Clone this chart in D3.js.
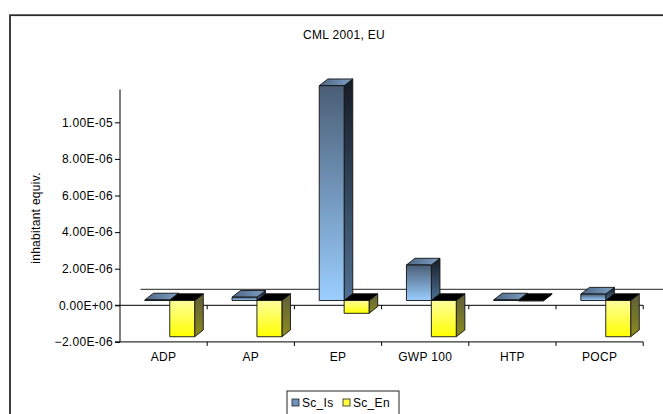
<!DOCTYPE html>
<html>
<head>
<meta charset="utf-8">
<script src="https://cdn.jsdelivr.net/npm/d3@7/dist/d3.min.js"></script>
<style>
  html, body { margin: 0; padding: 0; background: #fff; }
  svg { display: block; }
  text { font-family: "Liberation Sans", Arial, sans-serif; fill: #000; letter-spacing: 0.3px; }
</style>
</head>
<body>
<svg id="chart" width="663" height="414"></svg>
<script>
// Impact categories and normalised results (inhabitant equivalents)
const categories = ["ADP", "AP", "EP", "GWP 100", "HTP", "POCP"];
const seriesNames = ["Sc_Is", "Sc_En"];
const scIs = [0.03e-6, 0.18e-6, 11.74e-6, 1.94e-6, 0.03e-6, 0.35e-6];
const scEn = [-1.98e-6, -1.98e-6, -0.70e-6, -1.98e-6, -0.02e-6, -1.98e-6];
const yTicks = [-2e-6, 0, 2e-6, 4e-6, 6e-6, 8e-6, 1e-5];
const yDomain = [-2e-6, 1.18e-5];
const chartTitle = "CML 2001, EU";
const yTitle = "inhabitant equiv.";

const svg = d3.select("#chart");

// layout
const plot = { left: 120, right: 643.2, bottom: 341.9, top: 89.4 };
const depth = { dx: 20.5, dy: -16 };      // floor depth vector (oblique projection)
const barFront = 0.3, barBack = 0.72;      // bar position inside the floor depth

const x = d3.scaleBand().domain(categories).range([plot.left, plot.right]).padding(0);
const xs = d3.scaleBand().domain(seriesNames).range([0, x.bandwidth()])
  .paddingInner(0).paddingOuter(0.75);
const y = d3.scaleLinear().domain(yDomain).range([plot.bottom, plot.top]);

// gradients
const defs = svg.append("defs");
function grad(id, stops, horiz) {
  const g = defs.append("linearGradient").attr("id", id)
    .attr("x1", 0).attr("y1", 0).attr("x2", horiz ? 1 : 0).attr("y2", horiz ? 0 : 1);
  stops.forEach(([o, c]) => g.append("stop").attr("offset", o).attr("stop-color", c));
}
grad("blueFront", [[0, "#4a5e76"], [1, "#9bceff"]]);
grad("blueSide", [[0, "#151c25"], [1, "#4e7092"]]);
grad("blueTop", [[0, "#4d6684"], [1, "#7fa0c4"]], true);
grad("yellowFront", [[0, "#ffff9c"], [1, "#ffff00"]]);
grad("yellowSide", [[0, "#5e5e3a"], [1, "#8b8b1e"]]);
const fills = {
  Sc_Is: { front: "url(#blueFront)", side: "url(#blueSide)", top: "url(#blueTop)" },
  Sc_En: { front: "url(#yellowFront)", side: "url(#yellowSide)", top: "#000" }
};

// outer chart frame
svg.append("rect").attr("x", 10).attr("y", 15.2).attr("width", 700).attr("height", 450)
  .attr("fill", "none").attr("stroke", "#2b2b2b").attr("stroke-width", 1.8);

// title
svg.append("text").attr("x", 344).attr("y", 39).attr("text-anchor", "middle")
  .attr("font-size", 12).text(chartTitle);

// back edge of the zero floor
svg.append("line")
  .attr("x1", plot.left + depth.dx).attr("x2", plot.right + depth.dx)
  .attr("y1", y(0) + depth.dy).attr("y2", y(0) + depth.dy)
  .attr("stroke", "#222").attr("stroke-width", 1);

// value axis
const yAxis = d3.axisLeft(y).tickValues(yTicks).tickSize(5).tickPadding(2)
  .tickFormat(d => d3.format(".2e")(d).replace("e", "E").replace(/E([+-])(\d)$/, "E$10$2"));
const gy = svg.append("g").attr("transform", `translate(${plot.left},0)`).call(yAxis);
gy.select(".domain").remove();
gy.selectAll(".tick line").attr("stroke", "#000");
gy.selectAll(".tick text").attr("font-size", 12).attr("font-family", "Liberation Sans, Arial, sans-serif");
svg.append("line").attr("x1", plot.left).attr("x2", plot.left)
  .attr("y1", plot.top).attr("y2", plot.bottom).attr("stroke", "#000");

// category axis at the bottom and the zero line, both with boundary ticks
const bounds = categories.map(c => x(c)).concat([plot.right]);
[y(yDomain[0]), y(0)].forEach(yy => {
  svg.append("line").attr("x1", plot.left - 5).attr("x2", plot.right)
    .attr("y1", yy).attr("y2", yy).attr("stroke", "#000");
  svg.selectAll(null).data(bounds.slice(1)).enter().append("line")
    .attr("x1", d => d).attr("x2", d => d).attr("y1", yy).attr("y2", yy + 4)
    .attr("stroke", "#000");
});
svg.selectAll(".cat").data(categories).enter().append("text")
  .attr("x", d => x(d) + x.bandwidth() / 2).attr("y", 361)
  .attr("text-anchor", "middle").attr("font-size", 12).text(d => d);

// axis title
svg.append("text").attr("transform", `translate(40,218) rotate(-90)`)
  .attr("text-anchor", "middle").attr("font-size", 12).text(yTitle);

// 3D bars
const bars = [];
categories.forEach((c, i) => {
  bars.push({ cat: c, s: "Sc_Is", v: scIs[i] });
  bars.push({ cat: c, s: "Sc_En", v: scEn[i] });
});
const offX = depth.dx * barFront, offY = depth.dy * barFront;
const bdx = depth.dx * (barBack - barFront), bdy = depth.dy * (barBack - barFront);
const barG = svg.append("g");
bars.forEach(b => {
  const x0 = x(b.cat) + xs(b.s) + offX, x1 = x0 + xs.bandwidth();
  const yTop = Math.min(y(b.v), y(0)) + offY;
  const yBot = Math.max(y(b.v), y(0)) + offY;
  const f = fills[b.s];
  const g = barG.append("g").attr("stroke", "#111").attr("stroke-width", 0.9)
    .attr("stroke-linejoin", "round");
  g.append("path").attr("fill", f.side)
    .attr("d", `M${x1},${yTop}L${x1 + bdx},${yTop + bdy}L${x1 + bdx},${yBot + bdy}L${x1},${yBot}Z`);
  g.append("path").attr("fill", f.top)
    .attr("d", `M${x0},${yTop}L${x1},${yTop}L${x1 + bdx},${yTop + bdy}L${x0 + bdx},${yTop + bdy}Z`);
  g.append("rect").attr("x", x0).attr("y", yTop).attr("width", x1 - x0)
    .attr("height", Math.max(yBot - yTop, 0.5)).attr("fill", f.front);
});

// legend
const lg = svg.append("g");
lg.append("rect").attr("x", 287).attr("y", 391).attr("width", 112).attr("height", 40)
  .attr("fill", "#fff").attr("stroke", "#222").attr("stroke-width", 1);
const legendItems = [
  { name: seriesNames[0], fill: "#6f93bd", x: 292 },
  { name: seriesNames[1], fill: "#ffff40", x: 343 }
];
legendItems.forEach(it => {
  lg.append("rect").attr("x", it.x).attr("y", 399).attr("width", 7).attr("height", 7)
    .attr("fill", it.fill).attr("stroke", "#222").attr("stroke-width", 0.8);
  lg.append("text").attr("x", it.x + 10).attr("y", 406.5).attr("font-size", 12).text(it.name);
});
</script>
</body>
</html>
